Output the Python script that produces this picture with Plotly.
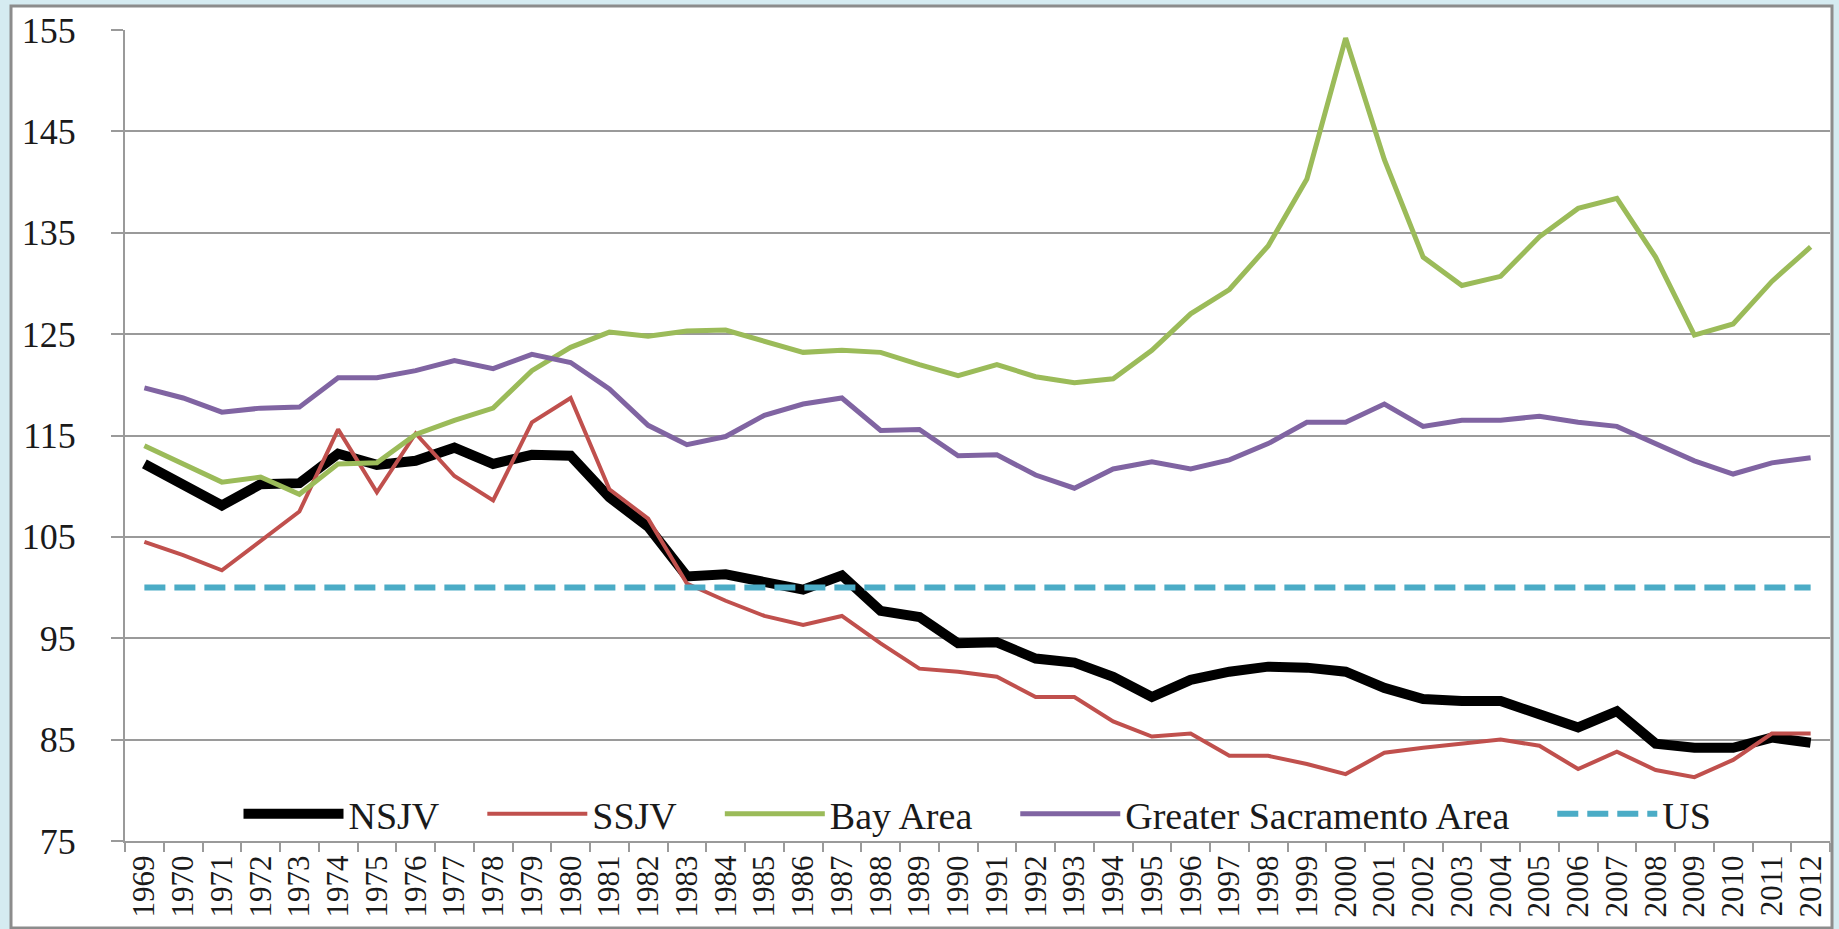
import plotly.graph_objects as go

# Per capita income index (US = 100), 1969-2012
years = [str(y) for y in range(1969, 2013)]

nsjv = [112.2, 110.1, 108.1, 110.2, 110.3, 113.2, 112.1, 112.5, 113.8, 112.2,
        113.1, 113.0, 108.9, 106.0, 101.1, 101.3, 100.5, 99.8, 101.2, 97.7,
        97.1, 94.5, 94.6, 93.0, 92.6, 91.2, 89.2, 90.9, 91.7, 92.2,
        92.1, 91.7, 90.1, 89.0, 88.8, 88.8, 87.5, 86.2, 87.8, 84.6,
        84.2, 84.2, 85.2, 84.7]

ssjv = [104.5, 103.2, 101.7, 104.6, 107.5, 115.6, 109.4, 115.2, 111.0, 108.6,
        116.3, 118.7, 109.7, 106.8, 100.4, 98.7, 97.2, 96.3, 97.2, 94.5,
        92.0, 91.7, 91.2, 89.2, 89.2, 86.8, 85.3, 85.6, 83.4, 83.4,
        82.6, 81.6, 83.7, 84.2, 84.6, 85.0, 84.4, 82.1, 83.8, 82.0,
        81.3, 83.0, 85.6, 85.6]

bay_area = [114.0, 112.2, 110.4, 110.9, 109.2, 112.2, 112.3, 115.1, 116.5, 117.7,
            121.4, 123.7, 125.2, 124.8, 125.3, 125.4, 124.3, 123.2, 123.4, 123.2,
            122.0, 120.9, 122.0, 120.8, 120.2, 120.6, 123.4, 127.0, 129.4, 133.7,
            140.3, 154.2, 142.2, 132.6, 129.8, 130.7, 134.6, 137.4, 138.4, 132.6,
            124.9, 126.0, 130.2, 133.6]

greater_sac = [119.7, 118.7, 117.3, 117.7, 117.8, 120.7, 120.7, 121.4, 122.4, 121.6,
               123.0, 122.2, 119.6, 116.0, 114.1, 114.9, 117.0, 118.1, 118.7, 115.5,
               115.6, 113.0, 113.1, 111.1, 109.8, 111.7, 112.4, 111.7, 112.6, 114.2,
               116.3, 116.3, 118.1, 115.9, 116.5, 116.5, 116.9, 116.3, 115.9, 114.2,
               112.5, 111.2, 112.3, 112.8]

us = [100, 100, 100, 100, 100, 100, 100, 100, 100, 100, 100,
      100, 100, 100, 100, 100, 100, 100, 100, 100, 100, 100,
      100, 100, 100, 100, 100, 100, 100, 100, 100, 100, 100,
      100, 100, 100, 100, 100, 100, 100, 100, 100, 100, 100]

y_ticks = [75, 85, 95, 105, 115, 125, 135, 145, 155]

FONT = "Liberation Serif"
GRID = "#9a9a9a"
PAD = "\u00a0" * 4  # extra room between legend entries

series = [
    ("NSJV", nsjv, dict(color="#000000", width=10)),
    ("SSJV", ssjv, dict(color="#C0504D", width=4)),
    ("Bay Area", bay_area, dict(color="#9BBB59", width=5)),
    ("Greater Sacramento Area", greater_sac, dict(color="#8064A2", width=5)),
    ("US", us, dict(color="#4BACC6", width=6, dash="21px,9px")),
]

fig = go.Figure()
for i, (name, values, line) in enumerate(series):
    label = name if i == len(series) - 1 else name + PAD
    fig.add_trace(go.Scatter(x=years, y=values, name=label, mode="lines", line=line))

# plot area in pixels: x 125..1830, y 30..841
W, H = 1839, 929
L, R, T, B = 125, 9, 30, 88
pw, ph = W - L - R, H - T - B


def px_x(x):
    return (x - L) / pw


def px_y(y):
    return (H - B - y) / ph


# white chart panel with grey frame on light blue page
fig.add_shape(
    type="rect", xref="paper", yref="paper", layer="below",
    x0=px_x(11), x1=px_x(1832), y0=px_y(928), y1=px_y(6),
    fillcolor="white", line=dict(color="#8c8c8c", width=3),
)

fig.update_layout(
    width=W,
    height=H,
    margin=dict(l=L, r=R, t=T, b=B, pad=0),
    paper_bgcolor="#d5ebf1",
    plot_bgcolor="rgba(0,0,0,0)",
    font=dict(family=FONT, color="#1a1a1a"),
    showlegend=True,
    legend=dict(
        orientation="h",
        x=0.5, xanchor="center",
        y=px_y(814), yanchor="middle",
        bgcolor="rgba(0,0,0,0)",
        font=dict(family=FONT, size=38, color="#1a1a1a"),
        itemwidth=100,
        traceorder="normal",
    ),
    xaxis=dict(
        type="category",
        tickmode="array",
        tickvals=years,
        ticktext=years,
        tickangle=-90,
        tickfont=dict(family=FONT, size=31),
        ticks="outside",
        tickson="boundaries",
        ticklen=9,
        tickwidth=2,
        tickcolor=GRID,
        showline=True,
        linecolor=GRID,
        linewidth=2,
        showgrid=False,
        zeroline=False,
        range=[-0.5, len(years) - 0.5],
    ),
    yaxis=dict(
        range=[75, 155],
        tickmode="array",
        tickvals=y_ticks,
        ticktext=[str(v) for v in y_ticks],
        tickfont=dict(family=FONT, size=36),
        ticks="outside",
        ticklen=12,
        tickwidth=2,
        tickcolor=GRID,
        ticklabelstandoff=28,
        showline=True,
        linecolor=GRID,
        linewidth=2,
        showgrid=True,
        gridcolor=GRID,
        gridwidth=2,
        zeroline=False,
    ),
)

fig.write_html(
    "out.html",
    config={"displayModeBar": False},
    post_script="document.body.style.margin='0';",
)
